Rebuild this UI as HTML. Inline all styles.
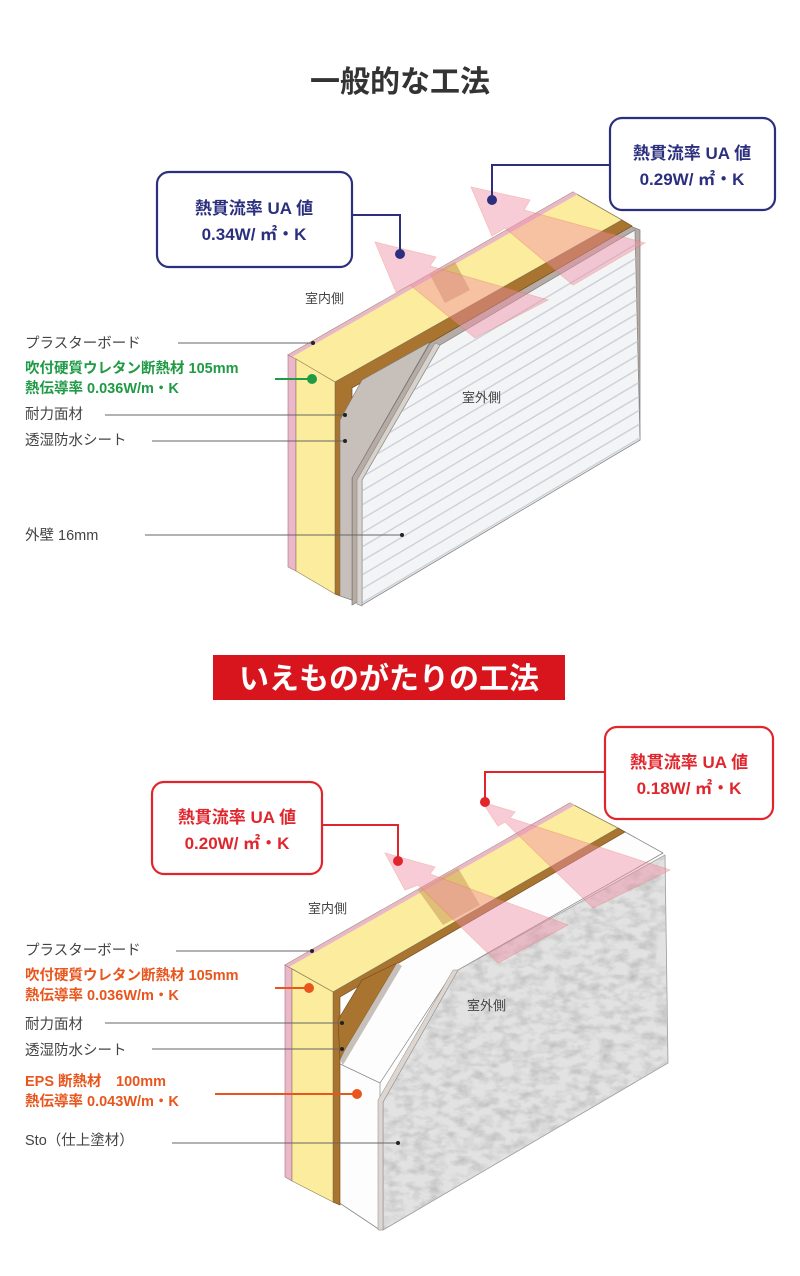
<!DOCTYPE html>
<html><head><meta charset="utf-8"><style>
html,body{margin:0;padding:0;background:#fff}
svg{display:block}
text{font-family:"Liberation Sans","Noto Sans CJK JP",sans-serif}
</style></head><body>
<svg width="800" height="1276" viewBox="0 0 800 1276" xmlns="http://www.w3.org/2000/svg">
<defs>
<filter id="stucco" x="0" y="0" width="100%" height="100%">
<feTurbulence type="fractalNoise" baseFrequency="0.07 0.12" numOctaves="3" seed="4"/>
<feColorMatrix type="matrix" values="0 0 0 0 0.5  0 0 0 0 0.5  0 0 0 0 0.5  0 0 0 -1.9 1.15"/>
</filter>
<clipPath id="stcClip"><polygon points="383,1102 458,970 665,855 668,1063 383,1230"/></clipPath>
<clipPath id="sidClip"><polygon points="362,480 440,345 635,230 640,440 362,605"/></clipPath>
</defs>

<text x="400" y="92" font-size="30" font-weight="bold" fill="#333" text-anchor="middle">一般的な工法</text>

<!-- ===== TOP WALL ===== -->
<polygon points="352,478 433,338 628,225 640,230 640,440 352,605" fill="#b7aca5" stroke="#777" stroke-width="0.7"/>
<polygon points="335,382 622,220 632,226 352,388 352,600 335,594" fill="#a8742f" stroke="#6b4a1d" stroke-width="0.7"/>
<polygon points="340,420 362,380 430,342 352,478 352,600 340,596" fill="#c7c0ba" stroke="#777" stroke-width="0.6"/>
<polygon points="362,480 440,345 635,230 640,440 362,605" fill="#f3f4f6" stroke="#888" stroke-width="0.8"/>
<g clip-path="url(#sidClip)" stroke="#cdd1d8" stroke-width="1.4">
<line x1="340" y1="420" x2="660" y2="230"/><line x1="340" y1="434" x2="660" y2="244"/>
<line x1="340" y1="448" x2="660" y2="258"/><line x1="340" y1="462" x2="660" y2="272"/>
<line x1="340" y1="476" x2="660" y2="286"/><line x1="340" y1="490" x2="660" y2="300"/>
<line x1="340" y1="504" x2="660" y2="314"/><line x1="340" y1="518" x2="660" y2="328"/>
<line x1="340" y1="532" x2="660" y2="342"/><line x1="340" y1="546" x2="660" y2="356"/>
<line x1="340" y1="560" x2="660" y2="370"/><line x1="340" y1="574" x2="660" y2="384"/>
<line x1="340" y1="588" x2="660" y2="398"/><line x1="340" y1="602" x2="660" y2="412"/>
<line x1="340" y1="616" x2="660" y2="426"/><line x1="340" y1="630" x2="660" y2="440"/>
</g>
<polygon points="357,480 435,343 440,345 362,480 362,606 357,604" fill="#d8d2cc" stroke="#888" stroke-width="0.6"/>
<polygon points="288,355 573,192 622,220 335,382" fill="#fbec9e" stroke="#8a7a50" stroke-width="0.8"/>
<polygon points="288,355 573,192 578,194 292,357" fill="#e8b8c8"/>
<polygon points="430,275 455,262 470,290 445,303" fill="#c89a58" opacity="0.6"/>
<polygon points="288,355 296,359 296,571 288,567" fill="#eab8c8" stroke="#a07080" stroke-width="0.6"/>
<polygon points="296,359 335,382 335,594 296,571" fill="#fbec9e" stroke="#8a7a50" stroke-width="0.6"/>
<polygon points="375,242 436,257 430,266 548,300 475,338 410,285 396,292" fill="#f090a8" opacity="0.45" stroke="#e87060" stroke-width="0.8"/>
<polygon points="471,187 530,200 524,210 645,243 573,285 505,228 492,236" fill="#f090a8" opacity="0.45" stroke="#e87060" stroke-width="0.8"/>

<text x="305" y="303" font-size="13" fill="#444">室内側</text>
<text x="462" y="402" font-size="13" fill="#444">室外側</text>
<g font-size="14.5" fill="#444">
<text x="25" y="348">プラスターボード</text>
<text x="25" y="419">耐力面材</text>
<text x="25" y="445">透湿防水シート</text>
<text x="25" y="540">外壁 16mm</text>
</g>
<g font-size="14.5" font-weight="bold" fill="#1f9a45">
<text x="25" y="373">吹付硬質ウレタン断熱材 105mm</text>
<text x="25" y="393">熱伝導率 0.036W/m・K</text>
</g>
<g stroke="#666" stroke-width="1" fill="none">
<line x1="178" y1="343" x2="313" y2="343"/>
<line x1="105" y1="415" x2="345" y2="415"/>
<line x1="152" y1="441" x2="345" y2="441"/>
<line x1="145" y1="535" x2="402" y2="535"/>
</g>
<circle cx="313" cy="343" r="2" fill="#222"/><circle cx="345" cy="415" r="2" fill="#222"/>
<circle cx="345" cy="441" r="2" fill="#222"/><circle cx="402" cy="535" r="2" fill="#222"/>
<line x1="275" y1="379" x2="312" y2="379" stroke="#1f9a45" stroke-width="2"/>
<circle cx="312" cy="379" r="5" fill="#1f9a45"/>

<rect x="157" y="172" width="195" height="95" rx="12" fill="#fff" stroke="#2b2f7e" stroke-width="2.2"/>
<text x="254" y="214" font-size="17" font-weight="bold" fill="#2b2f7e" text-anchor="middle">熱貫流率 UA 値</text>
<text x="254" y="240" font-size="17" font-weight="bold" fill="#2b2f7e" text-anchor="middle">0.34W/ ㎡・K</text>
<polyline points="352,215 400,215 400,254" fill="none" stroke="#2b2f7e" stroke-width="2"/>
<circle cx="400" cy="254" r="5" fill="#2b2f7e"/>
<rect x="610" y="118" width="165" height="92" rx="12" fill="#fff" stroke="#2b2f7e" stroke-width="2.2"/>
<text x="692" y="159" font-size="17" font-weight="bold" fill="#2b2f7e" text-anchor="middle">熱貫流率 UA 値</text>
<text x="692" y="185" font-size="17" font-weight="bold" fill="#2b2f7e" text-anchor="middle">0.29W/ ㎡・K</text>
<polyline points="610,165 492,165 492,200" fill="none" stroke="#2b2f7e" stroke-width="2"/>
<circle cx="492" cy="200" r="5" fill="#2b2f7e"/>

<rect x="213" y="655" width="352" height="45" fill="#d8141c"/>
<text x="389" y="689" font-size="30" font-weight="bold" fill="#fff" text-anchor="middle">いえものがたりの工法</text>

<!-- ===== BOTTOM WALL ===== -->
<polygon points="338,1063 397,963 618,828 663,853 458,970 383,1102 380,1230 338,1202" fill="#fdfdfd" stroke="#888" stroke-width="0.8"/>
<polyline points="338,1063 380,1083 453,972" fill="none" stroke="#888" stroke-width="0.7"/>
<line x1="380" y1="1083" x2="380" y2="1230" stroke="#888" stroke-width="0.7"/>
<polygon points="333,992 618,828 625,832 340,997 340,1205 333,1202" fill="#a8742f" stroke="#6b4a1d" stroke-width="0.6"/>
<polygon points="338,1020 362,980 397,963 345,1050 340,1060" fill="#a8742f" stroke="#6b4a1d" stroke-width="0.6"/>
<polygon points="340,1060 345,1050 397,963 402,966 343,1065" fill="#c7c0ba"/>
<polygon points="383,1102 458,970 665,855 668,1063 383,1230" fill="#e2e2e2" stroke="#999" stroke-width="0.8"/>
<rect x="380" y="850" width="292" height="385" filter="url(#stucco)" clip-path="url(#stcClip)"/>
<polygon points="378,1100 453,970 458,970 383,1102 383,1230 378,1230" fill="#ddd6d0" stroke="#888" stroke-width="0.5"/>
<polygon points="285,965 570,803 618,828 333,992" fill="#fbec9e" stroke="#8a7a50" stroke-width="0.8"/>
<polygon points="285,965 570,803 575,805 289,967" fill="#e8b8c8"/>
<polygon points="418,890 458,868 480,905 443,925" fill="#c89a58" opacity="0.55"/>
<polygon points="285,965 292,969 292,1181 285,1177" fill="#eab8c8" stroke="#a07080" stroke-width="0.6"/>
<polygon points="292,969 333,992 333,1202 292,1181" fill="#fbec9e" stroke="#8a7a50" stroke-width="0.6"/>
<polygon points="385,853 435,867 430,874 568,925 498,963 418,885 405,890" fill="#f090a8" opacity="0.45" stroke="#e87060" stroke-width="0.8"/>
<polygon points="482,802 515,812 510,818 670,870 593,908 505,822 498,826" fill="#f090a8" opacity="0.45" stroke="#e87060" stroke-width="0.8"/>

<text x="308" y="913" font-size="13" fill="#444">室内側</text>
<text x="467" y="1010" font-size="13" fill="#444">室外側</text>
<g font-size="14.5" fill="#444">
<text x="25" y="955">プラスターボード</text>
<text x="25" y="1029">耐力面材</text>
<text x="25" y="1055">透湿防水シート</text>
<text x="25" y="1145">Sto（仕上塗材）</text>
</g>
<g font-size="14.5" font-weight="bold" fill="#e8561e">
<text x="25" y="980">吹付硬質ウレタン断熱材 105mm</text>
<text x="25" y="1000">熱伝導率 0.036W/m・K</text>
<text x="25" y="1086">EPS 断熱材　100mm</text>
<text x="25" y="1106">熱伝導率 0.043W/m・K</text>
</g>
<g stroke="#666" stroke-width="1" fill="none">
<line x1="176" y1="951" x2="312" y2="951"/>
<line x1="105" y1="1023" x2="342" y2="1023"/>
<line x1="152" y1="1049" x2="342" y2="1049"/>
<line x1="172" y1="1143" x2="398" y2="1143"/>
</g>
<circle cx="312" cy="951" r="2" fill="#222"/><circle cx="342" cy="1023" r="2" fill="#222"/>
<circle cx="342" cy="1049" r="2" fill="#222"/><circle cx="398" cy="1143" r="2" fill="#222"/>
<line x1="275" y1="988" x2="309" y2="988" stroke="#e8561e" stroke-width="2"/>
<circle cx="309" cy="988" r="5" fill="#e8561e"/>
<line x1="215" y1="1094" x2="357" y2="1094" stroke="#e8561e" stroke-width="2"/>
<circle cx="357" cy="1094" r="5" fill="#e8561e"/>

<rect x="152" y="782" width="170" height="92" rx="12" fill="#fff" stroke="#e0262d" stroke-width="2.2"/>
<text x="237" y="823" font-size="17" font-weight="bold" fill="#e0262d" text-anchor="middle">熱貫流率 UA 値</text>
<text x="237" y="849" font-size="17" font-weight="bold" fill="#e0262d" text-anchor="middle">0.20W/ ㎡・K</text>
<polyline points="322,825 398,825 398,861" fill="none" stroke="#e0262d" stroke-width="2"/>
<circle cx="398" cy="861" r="5" fill="#e0262d"/>
<rect x="605" y="727" width="168" height="92" rx="12" fill="#fff" stroke="#e0262d" stroke-width="2.2"/>
<text x="689" y="768" font-size="17" font-weight="bold" fill="#e0262d" text-anchor="middle">熱貫流率 UA 値</text>
<text x="689" y="794" font-size="17" font-weight="bold" fill="#e0262d" text-anchor="middle">0.18W/ ㎡・K</text>
<polyline points="605,772 485,772 485,802" fill="none" stroke="#e0262d" stroke-width="2"/>
<circle cx="485" cy="802" r="5" fill="#e0262d"/>
</svg>
</body></html>
